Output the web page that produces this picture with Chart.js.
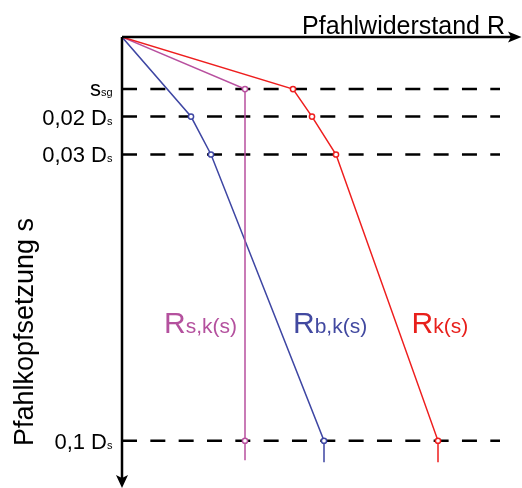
<!DOCTYPE html>
<html>
<head>
<meta charset="utf-8">
<script src="https://cdn.jsdelivr.net/npm/chart.js@4"></script>
<style>
body{margin:0;background:#fff;}
canvas{display:block;}
</style>
</head>
<body>
<canvas id="chart" width="522" height="488"></canvas>
<script>
// Setzungsniveaus (in % von Ds)
var sNiveaus = [1.29, 1.97, 2.91, 10.0];
var sLabels = [["s", "sg"], ["0,02 D", "s"], ["0,03 D", "s"], ["0,1 D", "s"]];

// Rs,k(s) - Mantelreibung
var mantelS = [0, 1.29, 10.0, 10.48];
var mantelR = [0, 123, 123, 123];
// Rb,k(s) - Spitzendruck
var fussS = [0, 1.97, 2.91, 10.0, 10.53];
var fussR = [0, 69, 89, 202, 202];
// Rk(s) - Gesamtwiderstand
var gesS = [0, 1.29, 1.97, 2.91, 10.0, 10.53];
var gesR = [0, 171, 190, 214, 316, 316];

var kurvenLabels = [["R", "s,k(s)"], ["R", "b,k(s)"], ["R", "k(s)"]];
var dashEnde = 378;

var fuente = "'Liberation Sans', Arial, sans-serif";
var cMag = "#B8509F";
var cBlue = "#3E46A3";
var cRed = "#EE1E1E";

function puntos(xs, ys){
	var p = [];
	for (var i = 0; i < xs.length; i++) p.push({x: xs[i], y: ys[i]});
	return p;
}
function radios(n, con){
	var r = [];
	for (var i = 0; i < n; i++) r.push(con.indexOf(i) >= 0 ? 2.6 : 0);
	return r;
}
function serie(xs, ys, color, con){
	return {
		data: puntos(xs, ys),
		borderColor: color,
		borderWidth: 1.5,
		pointRadius: radios(xs.length, con),
		pointBackgroundColor: "#fff",
		pointBorderColor: color,
		pointBorderWidth: 1.5,
		tension: 0,
		showLine: true
	};
}

var datasets = [
	serie(gesR, gesS, cRed, [1, 2, 3, 4]),
	serie(mantelR, mantelS, cMag, [1, 2]),
	serie(fussR, fussS, cBlue, [1, 2, 3])
];
for (var k = 0; k < sNiveaus.length; k++) {
	datasets.push({
		data: [{x: 0, y: sNiveaus[k]}, {x: dashEnde, y: sNiveaus[k]}],
		borderColor: "#000",
		borderWidth: 2.5,
		borderDash: [15, 13.33],
		pointRadius: 0,
		showLine: true
	});
}

function textoSub(ctx, x, y, main, sub, fMain, fSub, align){
	ctx.font = fMain + "px " + fuente;
	var w1 = ctx.measureText(main).width;
	ctx.font = fSub + "px " + fuente;
	var w2 = ctx.measureText(sub).width;
	var x0 = align == "right" ? x - w1 - w2 : x;
	ctx.textAlign = "left";
	ctx.font = fMain + "px " + fuente;
	ctx.fillText(main, x0, y);
	ctx.font = fSub + "px " + fuente;
	ctx.fillText(sub, x0 + w1, y);
}

var dibujo = {
	id: "dibujo",
	afterDraw: function(chart){
		var ctx = chart.ctx;
		var a = chart.chartArea;
		var ys = chart.scales.y;
		var xs = chart.scales.x;
		ctx.save();
		// Achsen
		ctx.strokeStyle = "#000";
		ctx.fillStyle = "#000";
		ctx.lineWidth = 2.5;
		ctx.beginPath();
		ctx.moveTo(a.left, a.top);
		ctx.lineTo(511, a.top);
		ctx.moveTo(a.left, a.top);
		ctx.lineTo(a.left, 478);
		ctx.stroke();
		ctx.beginPath();
		ctx.moveTo(521.5, a.top);
		ctx.lineTo(508, a.top - 5.5);
		ctx.lineTo(511, a.top);
		ctx.lineTo(508, a.top + 5.5);
		ctx.closePath();
		ctx.fill();
		ctx.beginPath();
		ctx.moveTo(a.left, 488);
		ctx.lineTo(a.left - 6, 475);
		ctx.lineTo(a.left, 478);
		ctx.lineTo(a.left + 6, 475);
		ctx.closePath();
		ctx.fill();

		// Achsentitel
		ctx.textBaseline = "alphabetic";
		ctx.font = "25px " + fuente;
		ctx.textAlign = "right";
		ctx.fillText("Pfahlwiderstand R", 505, 34);
		ctx.save();
		ctx.translate(33, 332);
		ctx.rotate(-Math.PI / 2);
		ctx.textAlign = "center";
		ctx.font = "27px " + fuente;
		ctx.fillText("Pfahlkopfsetzung s", 0, 0);
		ctx.restore();

		// Setzungsbeschriftung
		for (var i = 0; i < sNiveaus.length; i++) {
			var py = ys.getPixelForValue(sNiveaus[i]);
			var off = i == 0 ? 7 : 8;
			textoSub(ctx, 112.5, py + off, sLabels[i][0], sLabels[i][1], 22, 11, "right");
		}

		// Kurvenbeschriftung
		var pos = [164, 293, 411.5];
		var cols = ["#B4519E", "#4249A0", "#E8201C"];
		for (var j = 0; j < kurvenLabels.length; j++) {
			ctx.fillStyle = cols[j];
			textoSub(ctx, pos[j], 333, kurvenLabels[j][0], kurvenLabels[j][1], 30, 21, "left");
		}
		ctx.restore();
	}
};

var grafico = new Chart(document.getElementById("chart").getContext("2d"), {
	type: "scatter",
	data: {datasets: datasets},
	options: {
		responsive: false,
		animation: false,
		layout: {padding: {left: 122, top: 37, right: 0, bottom: 0}},
		plugins: {legend: {display: false}, tooltip: {enabled: false}},
		scales: {
			x: {type: "linear", min: 0, max: 400, display: false},
			y: {type: "linear", min: 0, max: 11.17, reverse: true, display: false}
		}
	},
	plugins: [dibujo]
});
</script>
</body>
</html>
